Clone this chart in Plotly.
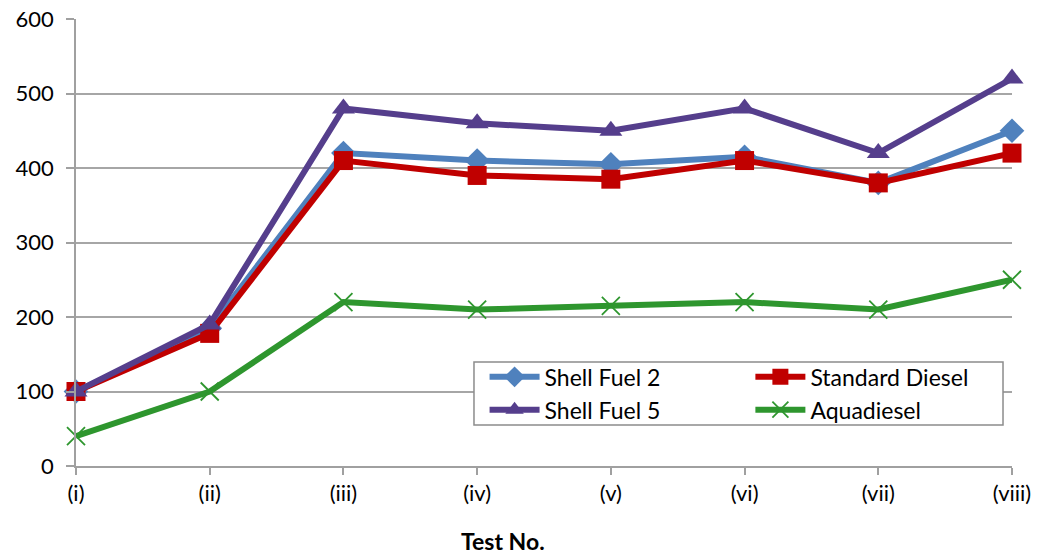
import plotly.graph_objects as go

tests = ["(i)", "(ii)", "(iii)", "(iv)", "(v)", "(vi)", "(vii)", "(viii)"]
shell_fuel_2 = [100, 185, 420, 410, 405, 415, 380, 450]
standard_diesel = [100, 178, 410, 390, 385, 410, 380, 420]
shell_fuel_5 = [100, 190, 480, 460, 450, 480, 420, 520]
aquadiesel = [40, 100, 220, 210, 215, 220, 210, 250]
y_ticks = [0, 100, 200, 300, 400, 500, 600]

xpos = list(range(len(tests)))

# (name, values, colour, marker, legend column)
series = [
    ("Shell Fuel 2", shell_fuel_2, "#4F81BD", dict(symbol="diamond", size=19), "legend"),
    ("Standard Diesel", standard_diesel, "#C00000", dict(symbol="square", size=19), "legend2"),
    ("Shell Fuel 5", shell_fuel_5, "#553E8C", dict(symbol="triangle-up", size=20), "legend"),
    ("Aquadiesel", aquadiesel, "#2E962E",
     dict(symbol="x-thin", size=18, line=dict(width=1.8, color="#2E962E")), "legend2"),
]

fig = go.Figure()
for name, vals, color, marker, leg in series:
    fig.add_trace(go.Scatter(
        x=xpos, y=vals, name=name, mode="lines+markers",
        line=dict(color=color, width=6),
        marker=dict(color=color, **marker),
        cliponaxis=False, legend=leg,
    ))

font_family = "Lato, 'Open Sans', sans-serif"

legend_common = dict(
    orientation="v", yanchor="top", xanchor="left",
    bgcolor="rgba(0,0,0,0)", borderwidth=0,
    font=dict(size=23), itemwidth=50, tracegroupgap=0,
)

fig.update_layout(
    width=1037, height=558,
    margin=dict(l=76, r=25, t=19, b=92, autoexpand=False),
    paper_bgcolor="white", plot_bgcolor="white",
    font=dict(family=font_family, size=22, color="black"),
    showlegend=True,
    legend=dict(x=0.4365, y=0.2475, **legend_common),
    legend2=dict(x=0.7205, y=0.2475, **legend_common),
    xaxis=dict(
        range=[0, 7], tickvals=xpos, ticktext=tests,
        showgrid=False, zeroline=False,
        showline=True, linecolor="#A0A0A0", linewidth=1.5,
        ticks="outside", ticklen=7, tickcolor="#A0A0A0", tickwidth=1.5,
        tickfont=dict(size=22),
    ),
    yaxis=dict(
        range=[0, 600], tickvals=y_ticks,
        showgrid=True, gridcolor="#A6A6A6", gridwidth=1.5,
        zeroline=False,
        showline=True, linecolor="#A0A0A0", linewidth=1.5,
        ticks="outside", ticklen=8, tickcolor="#A0A0A0", tickwidth=1.5,
        tickfont=dict(size=22), ticklabelstandoff=8,
    ),
    shapes=[dict(
        type="rect", xref="paper", yref="paper",
        x0=0.4252, x1=0.9904, y0=0.0917, y1=0.2327,
        line=dict(color="#8C8C8C", width=1.5), fillcolor="white",
        layer="above",
    )],
    annotations=[dict(
        text="<b>Test No.</b>", xref="paper", yref="paper",
        x=0.456, y=-0.2036, xanchor="center", yanchor="bottom",
        showarrow=False, font=dict(size=23),
    )],
)

fig.write_html("out.html")
